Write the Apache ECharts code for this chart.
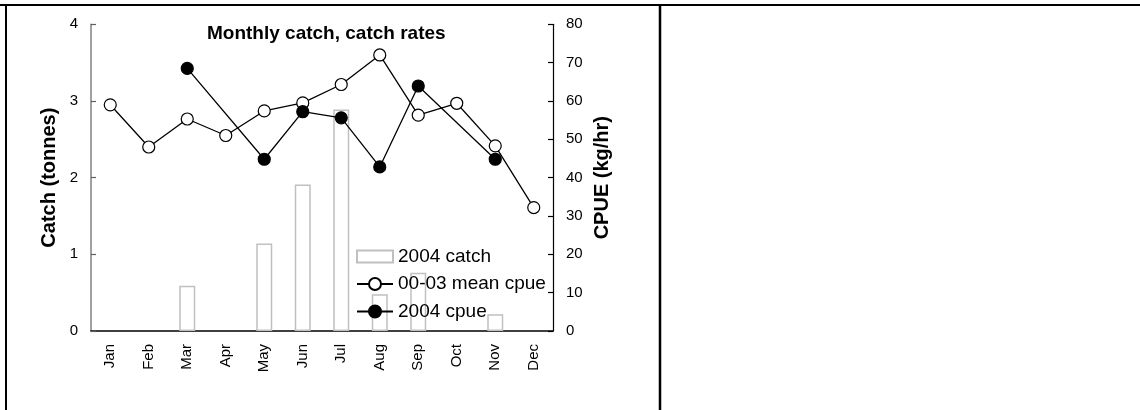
<!DOCTYPE html>
<html>
<head>
<meta charset="utf-8">
<script src="https://cdn.jsdelivr.net/npm/echarts@6/dist/echarts.min.js"></script>
<style>
html,body{margin:0;padding:0;background:#fff;}
#chart{width:1140px;height:410px;}
</style>
</head>
<body>
<div id="chart"></div>
<script>
const months = ['Jan','Feb','Mar','Apr','May','Jun','Jul','Aug','Sep','Oct','Nov','Dec'];
const catch2004 = [null, null, 0.59, null, 1.14, 1.91, 2.89, 0.48, 0.76, null, 0.22, null];
const meanCpue0003 = [59, 48, 55.3, 51, 57.4, 59.5, 64.3, 72, 56.3, 59.4, 48.3, 32.2];
const cpue2004 = [null, null, 68.5, null, 44.8, 57.2, 55.6, 42.8, 63.9, null, 44.8, null];
const catchTicks = [0, 4, 1];
const cpueTicks = [0, 80, 10];

const FONT = 'Arial, "Liberation Sans", sans-serif';
const chart = echarts.init(document.getElementById('chart'), null, {renderer: 'canvas'});
chart.setOption({
  animation: false,
  backgroundColor: '#fff',
  textStyle: {fontFamily: FONT, color: '#000'},
  title: {
    text: 'Monthly catch, catch rates',
    left: 207, top: 24,
    padding: 0,
    textStyle: {fontFamily: FONT, fontWeight: 'bold', fontSize: 19, color: '#000'}
  },
  grid: {left: 91, right: 587, top: 24.3, bottom: 79, containLabel: false},
  legend: {
    orient: 'vertical',
    left: 356, top: 247,
    padding: 0,
    itemWidth: 36, itemHeight: 15, itemGap: 8.5,
    textStyle: {fontFamily: FONT, fontSize: 19, color: '#000'},
    data: [
      {name: '2004 catch', icon: 'path://M0,0h36v12h-36z'},
      {name: '00-03 mean cpue'},
      {name: '2004 cpue'}
    ]
  },
  xAxis: {
    type: 'category',
    data: months,
    boundaryGap: true,
    axisLine: {lineStyle: {color: '#000', width: 1.5}},
    axisTick: {inside: true, length: 5, lineStyle: {color: '#000', width: 1.2}},
    axisLabel: {rotate: 90, fontSize: 15, margin: 13, color: '#000', fontFamily: FONT},
    splitLine: {show: false}
  },
  yAxis: [
    {
      type: 'value', min: catchTicks[0], max: catchTicks[1], interval: catchTicks[2],
      name: 'Catch (tonnes)', nameLocation: 'middle', nameGap: 32,
      nameTextStyle: {fontFamily: FONT, fontWeight: 'bold', fontSize: 20, color: '#000'},
      axisLine: {show: true, lineStyle: {color: '#808080', width: 1.5}},
      axisTick: {show: true, inside: true, length: 5, lineStyle: {color: '#606060', width: 1.2}},
      axisLabel: {fontSize: 15, margin: 13, color: '#000', fontFamily: FONT},
      splitLine: {show: false}
    },
    {
      type: 'value', position: 'right', min: cpueTicks[0], max: cpueTicks[1], interval: cpueTicks[2],
      name: 'CPUE (kg/hr)', nameLocation: 'middle', nameGap: 39,
      nameTextStyle: {fontFamily: FONT, fontWeight: 'bold', fontSize: 20, color: '#000'},
      axisLine: {show: true, lineStyle: {color: '#000', width: 1.2}},
      axisTick: {show: true, inside: true, length: 5, lineStyle: {color: '#000', width: 1.2}},
      axisLabel: {fontSize: 15, margin: 13, color: '#000', fontFamily: FONT},
      splitLine: {show: false}
    }
  ],
  series: [
    {
      name: '2004 catch', type: 'bar', yAxisIndex: 0, data: catch2004,
      barWidth: 16,
      itemStyle: {color: '#fff', borderColor: '#c0c0c0', borderWidth: 1.5},
      z: 1
    },
    {
      name: '00-03 mean cpue', type: 'line', yAxisIndex: 1, data: meanCpue0003,
      symbol: 'circle', symbolSize: 12, showAllSymbol: true,
      lineStyle: {color: '#000', width: 1.3},
      itemStyle: {color: '#fff', borderColor: '#000', borderWidth: 1.2},
      z: 3
    },
    {
      name: '2004 cpue', type: 'line', yAxisIndex: 1, data: cpue2004,
      connectNulls: true,
      symbol: 'circle', symbolSize: 12, showAllSymbol: true,
      lineStyle: {color: '#000', width: 1.3},
      itemStyle: {color: '#000', borderColor: '#000', borderWidth: 1.2},
      z: 4
    }
  ],
  graphic: [
    {type: 'line', shape: {x1: 0, y1: 5, x2: 1140, y2: 5}, style: {stroke: '#000', lineWidth: 2}},
    {type: 'line', shape: {x1: 6, y1: 4, x2: 6, y2: 410}, style: {stroke: '#000', lineWidth: 2}},
    {type: 'line', shape: {x1: 660, y1: 4, x2: 660, y2: 410}, style: {stroke: '#000', lineWidth: 2.5}}
  ]
});
</script>
</body>
</html>
